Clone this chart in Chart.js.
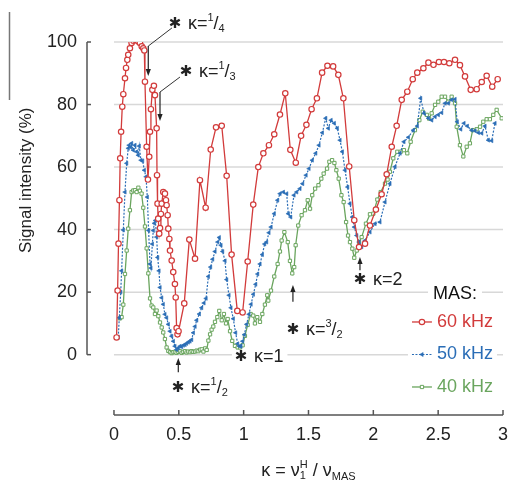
<!DOCTYPE html>
<html><head><meta charset="utf-8">
<script src="https://cdn.jsdelivr.net/npm/chart.js@4/dist/chart.umd.min.js"></script>
<style>html,body{margin:0;padding:0;background:#fff}#wrap{width:509px;height:480px}</style>
</head><body><div id="wrap"><canvas id="c" width="509" height="480"></canvas></div>
<script>
// ---------- data ----------
const kappa60 = [0.02,0.028,0.035,0.042,0.048,0.055,0.064,0.072,0.085,0.093,
0.103,0.11,0.123,0.136,0.149,0.162,0.175,0.187,0.2,0.214,
0.226,0.234,0.239,0.252,0.262,0.272,0.278,0.285,0.296,0.308,
0.316,0.329,0.332,0.336,0.341,0.349,0.355,0.362,0.368,0.38,
0.393,0.401,0.406,0.414,0.419,0.427,0.432,0.445,0.457,0.47,
0.476,0.483,0.49,0.498,0.542,0.581,0.625,0.663,0.707,0.746,
0.787,0.831,0.869,0.907,0.951,0.992,1.031,1.074,1.113,1.152,
1.195,1.236,1.28,1.321,1.36,1.402,1.443,1.484,1.524,1.565,
1.605,1.646,1.69,1.73,1.769,1.814,1.853,1.89,1.936,1.974,
2.02,2.064,2.103,2.142,2.18,2.219,2.262,2.304,2.339,2.386,
2.425,2.464,2.506,2.545,2.586,2.63,2.668,2.707,2.751,2.797,
2.836,2.874,2.917,2.959];
const signal60 = [5.5,20.5,35.5,49.4,62.8,71.3,79.3,83.3,88.4,91.7,
94.3,95.9,98,99.7,100.4,100.7,100.7,100.2,99.7,98.6,
98,97.3,87.3,66.5,56,63.3,71.3,78.5,84.7,86,
83,72.4,57.4,48.3,43.5,38.7,40.5,45,48.3,52,
51.5,49.4,47.8,44.6,40.3,37,33.3,30.1,26.4,22.6,
18.3,8.5,6.5,7.5,16.4,36.8,30.7,55.8,47,65.6,
72.7,73.2,57.2,32,14,13.5,29.8,48,60,64.4,
67,70.5,76.8,83.6,65.5,61.4,70,73.5,78.5,82,
90.2,92.4,92.2,89.5,82,60.2,43,34.4,35.5,41.3,
46.4,51.3,57.7,66.5,73.2,81.5,84.1,88.1,90.2,91.6,
93.4,92.7,93.6,93.6,93.2,94.3,92.6,89,84.7,84.9,
87.2,89.2,85.7,88.1];

const kappa50 = [0.033,0.041,0.052,0.059,0.072,0.085,0.098,0.11,0.116,0.129,
0.136,0.149,0.162,0.175,0.187,0.195,0.208,0.221,0.234,0.247,
0.257,0.267,0.278,0.285,0.296,0.303,0.311,0.319,0.329,0.337,
0.347,0.355,0.368,0.38,0.393,0.406,0.419,0.432,0.445,0.458,
0.47,0.483,0.496,0.509,0.522,0.535,0.548,0.56,0.573,0.586,
0.599,0.612,0.625,0.638,0.658,0.676,0.694,0.71,0.728,0.745,
0.761,0.779,0.8,0.812,0.825,0.838,0.856,0.869,0.887,0.902,
0.92,0.938,0.954,0.967,0.979,0.992,1.005,1.023,1.041,1.057,
1.075,1.093,1.108,1.126,1.144,1.162,1.177,1.195,1.211,1.236,
1.262,1.28,1.306,1.332,1.344,1.363,1.388,1.409,1.434,1.455,
1.481,1.504,1.529,1.556,1.581,1.607,1.633,1.653,1.674,1.699,
1.722,1.743,1.761,1.782,1.802,1.82,1.838,1.853,1.872,1.89,
1.91,1.936,1.974,2.013,2.051,2.09,2.128,2.167,2.206,2.236,
2.27,2.308,2.339,2.365,2.391,2.425,2.45,2.476,2.501,2.527,
2.553,2.578,2.604,2.63,2.647,2.674,2.699,2.725,2.758,2.784,
2.81,2.836,2.861,2.887,2.913,2.938];
const signal50 = [5.6,11.8,20,26.8,39.9,52,61.2,66,67,66.3,
67.6,65.4,67,64.9,63.8,66.7,62.2,62,59,56.9,
50.4,39.7,29,27.7,35.4,39.7,42,42.9,37.6,31.1,
26.8,21.5,18.2,16.1,12.9,11.8,9.7,7.5,5.9,4.3,
2.7,1.6,2.1,2.7,2.5,3,3.2,3.6,4,4.3,
4.8,7,9,11,13,15,16.5,18,25,28,
30.5,33,36,37.5,35,33,30,24,19,15,
11.5,7,3.5,2.7,2.7,4.3,6.4,9.7,12.9,16.1,
19.3,22.5,25.8,29,32,35.4,36,39,40.8,45.1,
49.4,51.5,52,51.5,45.1,44,51,52,53.1,54.7,
57.4,59.5,62.2,64.4,67,71,75.6,72.4,75,74,
72.4,68.6,64.9,59,53.6,48.3,44,40.8,38.1,36,
34.5,36.5,39.2,41.9,42.4,48.8,54.7,60.1,64.4,68.1,
69.5,71.8,73.1,82,77.2,75.6,75,76.1,76.7,77.4,
80.4,80.4,81.5,81.7,74.5,72.1,74,73.1,71.8,71.6,
71,70.8,73.1,68.6,68.4,74];

const kappa40 = [0.046,0.059,0.072,0.085,0.098,0.11,0.123,0.136,0.149,0.162,
0.175,0.188,0.2,0.213,0.226,0.239,0.252,0.265,0.278,0.29,
0.303,0.316,0.329,0.342,0.355,0.368,0.38,0.393,0.406,0.419,
0.432,0.445,0.458,0.47,0.483,0.496,0.509,0.522,0.535,0.548,
0.56,0.573,0.586,0.599,0.612,0.625,0.638,0.651,0.664,0.677,
0.69,0.703,0.715,0.728,0.741,0.753,0.766,0.779,0.797,0.812,
0.831,0.848,0.864,0.877,0.895,0.912,0.933,0.954,0.972,0.992,
1.01,1.031,1.054,1.074,1.087,1.105,1.126,1.144,1.164,1.182,
1.19,1.211,1.236,1.262,1.28,1.293,1.314,1.34,1.357,1.375,
1.39,1.401,1.421,1.447,1.473,1.494,1.512,1.529,1.551,1.577,
1.599,1.617,1.643,1.661,1.682,1.7,1.715,1.733,1.754,1.771,
1.79,1.805,1.82,1.838,1.853,1.872,1.89,1.91,1.943,1.974,
2,2.031,2.057,2.09,2.11,2.128,2.154,2.185,2.211,2.236,
2.262,2.288,2.321,2.355,2.381,2.412,2.43,2.45,2.476,2.501,
2.527,2.553,2.578,2.604,2.63,2.643,2.668,2.694,2.72,2.745,
2.766,2.797,2.823,2.848,2.874,2.899,2.925,2.951,2.99];
const signal40 = [11.6,12,16,25.8,33.3,40.3,46.2,52,52.5,52.6,
52,53.4,52.4,51.5,47,41,34,26,18,15.7,
15.1,13,14.1,12.3,10.3,8.7,7.1,5,2.3,1.2,
0.8,0.5,0.8,0.9,0.6,0.9,1.1,0.6,0.9,1.1,
0.7,1,0.8,1.1,0.9,1,1.3,1.1,1.6,1.7,
1,2,1.5,4.5,6.5,8,9,10.5,12,14,
11,13,10,11.4,7.5,4.4,2.8,2.3,2.3,3,
6,9.5,13,12.5,10,12,10.5,13,16,19,
17.3,20.5,25,29,33,36.5,39.2,36,30,26,
28,35,41.3,44.6,46.2,49.4,46.7,51,53.1,54.2,
56.3,57.9,59.5,61.7,62.2,61.3,59,56.3,51,48.8,
42.4,38.1,36,33.9,31,33.3,36,37.6,41.9,44.9,
45.1,49.6,52,54.7,56,58.5,62.8,64.9,64.9,65.4,
64.4,68.1,71.8,75,77.7,76.7,75.5,77.2,79.9,80.9,
82.5,82.5,80.9,82.5,80.4,72.9,67,63.4,66.5,67.6,
71.8,72.1,72.9,74.5,75.3,75.3,76.7,78.3,75.6];

const seriesNames = ['60 kHz','50 kHz','40 kHz'];
const xTicks = [0,0.5,1,1.5,2,2.5,3];
const yTicks = [0,20,40,60,80,100];
const yTitle = 'Signal intensity (%)';
const legendTitle = 'MAS:';

// ---------- styles ----------
const RED = '#d23b3b', BLUE = '#2a6db6', GREEN = '#6aa55e', INK = '#222';
const FONT = '"Liberation Sans", Arial, Helvetica, sans-serif';
const F18 = '18px ' + FONT, F17 = '17px ' + FONT, F11 = '11px ' + FONT;
const STAR = '15px "DejaVu Sans", sans-serif';

const pts = (xs, ys) => xs.map((x, i) => ({x: x, y: ys[i]}));

function rich(ctx, x, y, parts, dry) {
  let cx = x;
  for (const p of parts) {
    ctx.font = p.f;
    if (!dry) { ctx.fillStyle = p.c || INK; ctx.fillText(p.t, cx, y + (p.dy || 0)); }
    cx += ctx.measureText(p.t).width;
  }
  return cx - x;
}
function kParts(num, den) {
  if (den === undefined) return [{t: 'κ=' + num, f: F18}];
  return [{t: 'κ=', f: F18}, {t: String(num), f: F11, dy: -6}, {t: '/', f: F18}, {t: String(den), f: F11, dy: 5}];
}
function starLabel(ctx, sx, sy, parts) {
  ctx.textAlign = 'center'; ctx.textBaseline = 'middle';
  ctx.font = STAR; ctx.fillStyle = INK; ctx.fillText('✱', sx, sy);
  ctx.textAlign = 'left';
  rich(ctx, sx + 13, sy, parts);
}
function arrow(ctx, x, y0, y1) { // from y0 to tip y1
  ctx.strokeStyle = INK; ctx.lineWidth = 1.2;
  const dir = y1 > y0 ? 1 : -1;
  ctx.beginPath(); ctx.moveTo(x, y0); ctx.lineTo(x, y1 - dir * 5); ctx.stroke();
  ctx.fillStyle = INK; ctx.beginPath();
  ctx.moveTo(x, y1); ctx.lineTo(x - 2.6, y1 - dir * 7); ctx.lineTo(x + 2.6, y1 - dir * 7); ctx.closePath(); ctx.fill();
}

const datasetStyles = [
  {borderColor: RED, borderWidth: 1.3, pointStyle: 'circle', pointRadius: 2.7, pointBorderWidth: 1.2, pointBackgroundColor: '#fff', pointBorderColor: RED},
  {borderColor: BLUE, borderWidth: 1.2, borderDash: [2, 1.5], pointStyle: 'triangle', rotation: -90, pointRadius: 2.3, pointBorderWidth: 0.6, pointBackgroundColor: BLUE, pointBorderColor: BLUE},
  {borderColor: GREEN, borderWidth: 1.3, pointStyle: 'rect', pointRadius: 2.3, pointBorderWidth: 1, pointBackgroundColor: '#fff', pointBorderColor: GREEN}
];

const deco = {
  id: 'deco',
  beforeDatasetsDraw(chart) {
    const {ctx, chartArea: ca} = chart;
    const xs = chart.scales.x, ys = chart.scales.y;
    const X = v => xs.getPixelForValue(v), Y = v => ys.getPixelForValue(v);
    ctx.save();
    // grid lines
    ctx.strokeStyle = '#d8d8d8'; ctx.lineWidth = 1.5;
    yTicks.forEach(v => { ctx.beginPath(); ctx.moveTo(X(xTicks[0]), Y(v)); ctx.lineTo(X(xTicks[xTicks.length - 1]), Y(v)); ctx.stroke(); });
    // white boxes behind labels that sit on grid lines
    ctx.fillStyle = '#fff';
    ctx.font = F18;
    const w1 = ctx.measureText('κ=1').width;
    ctx.fillRect(X(0.979) - 9, Y(-0.7) - 10, w1 + 26, 20);
    const mw = ctx.measureText(legendTitle).width;
    ctx.fillRect(X(2.63) - mw / 2 - 5, Y(19.5) - 10, mw + 10, 20);
    const rows = [10.45, 0.05, -10.34];
    rows.forEach((r, i) => {
      const tw = ctx.measureText(seriesNames[i]).width;
      ctx.fillRect(X(2.298) - 4, Y(r) - 10, X(2.491) - X(2.298) + tw + 8, 20);
    });
    // axes
    ctx.strokeStyle = '#555'; ctx.lineWidth = 1.5;
    ctx.beginPath(); ctx.moveTo(ca.left, Y(yTicks[yTicks.length - 1])); ctx.lineTo(ca.left, Y(yTicks[0])); ctx.stroke();
    yTicks.forEach(v => { ctx.beginPath(); ctx.moveTo(ca.left, Y(v)); ctx.lineTo(ca.left + 4, Y(v)); ctx.stroke(); });
    ctx.beginPath(); ctx.moveTo(X(xTicks[0]), ca.bottom); ctx.lineTo(X(xTicks[xTicks.length - 1]), ca.bottom); ctx.stroke();
    xTicks.forEach(v => { ctx.beginPath(); ctx.moveTo(X(v), ca.bottom); ctx.lineTo(X(v), ca.bottom - 5); ctx.stroke(); });
    // stray border line at the left edge of the reference picture
    ctx.strokeStyle = '#777'; ctx.lineWidth = 1.5;
    ctx.beginPath(); ctx.moveTo(9.5, 12); ctx.lineTo(9.5, 100); ctx.stroke();
    ctx.restore();
  },
  afterDatasetsDraw(chart) {
    const {ctx, chartArea: ca} = chart;
    const xs = chart.scales.x, ys = chart.scales.y;
    const X = v => xs.getPixelForValue(v), Y = v => ys.getPixelForValue(v);
    ctx.save();
    // kappa = 1/4 with leader
    ctx.strokeStyle = '#333'; ctx.lineWidth = 1;
    ctx.beginPath(); ctx.moveTo(X(0.447), Y(104.5)); ctx.lineTo(X(0.2645), Y(98.7)); ctx.stroke();
    arrow(ctx, X(0.2645), Y(98.7), Y(89.1));
    starLabel(ctx, X(0.47), Y(105.8), kParts(1, 4));
    // kappa = 1/3 with leader
    ctx.strokeStyle = '#333'; ctx.lineWidth = 1;
    ctx.beginPath(); ctx.moveTo(X(0.509), Y(88.8)); ctx.lineTo(X(0.355), Y(84.0)); ctx.stroke();
    arrow(ctx, X(0.355), Y(84.0), Y(74.7));
    starLabel(ctx, X(0.555), Y(90.4), kParts(1, 3));
    // kappa = 1/2
    arrow(ctx, X(0.496), Y(-5.6), Y(-1.1));
    starLabel(ctx, X(0.494), Y(-10.7), kParts(1, 2));
    // kappa = 1
    starLabel(ctx, X(0.979), Y(-0.7), kParts(1));
    // kappa = 3/2
    arrow(ctx, X(1.38), Y(16.9), Y(22.3));
    starLabel(ctx, X(1.38), Y(8.0), kParts(3, 2));
    // kappa = 2
    arrow(ctx, X(1.897), Y(27.0), Y(31.2));
    starLabel(ctx, X(1.897), Y(23.9), kParts(2));

    // legend
    ctx.textBaseline = 'middle'; ctx.textAlign = 'center';
    ctx.font = F18; ctx.fillStyle = '#111';
    ctx.fillText(legendTitle, X(2.63), Y(19.5));
    ctx.textAlign = 'left';
    const rows = [10.45, 0.05, -10.34];
    rows.forEach((r, i) => {
      const st = datasetStyles[i];
      const yy = Y(r);
      ctx.strokeStyle = st.borderColor; ctx.lineWidth = st.borderWidth;
      ctx.setLineDash(st.borderDash || []);
      ctx.beginPath(); ctx.moveTo(X(2.298), yy); ctx.lineTo(X(2.452), yy); ctx.stroke();
      ctx.setLineDash([]);
      ctx.fillStyle = st.pointBackgroundColor; ctx.strokeStyle = st.pointBorderColor; ctx.lineWidth = st.pointBorderWidth;
      Chart.helpers.drawPoint(ctx, {pointStyle: st.pointStyle, radius: st.pointRadius, rotation: st.rotation || 0, borderWidth: st.pointBorderWidth}, X(2.375), yy);
      ctx.font = F18; ctx.fillStyle = st.borderColor;
      ctx.fillText(seriesNames[i], X(2.491), yy);
    });

    // y title
    ctx.save();
    ctx.translate(ca.left - 61, (Y(100) + Y(0)) / 2 - 18);
    ctx.rotate(-Math.PI / 2);
    ctx.textAlign = 'center'; ctx.textBaseline = 'middle';
    ctx.font = F17; ctx.fillStyle = INK;
    ctx.fillText(yTitle, 0, 0);
    ctx.restore();

    // x title: kappa = nu1^H / nu_MAS
    ctx.textAlign = 'left'; ctx.textBaseline = 'middle';
    const a = [{t: 'κ = ν', f: F18}], b = [{t: ' / ν', f: F18}], c = [{t: 'MAS', f: F11, dy: 6}];
    ctx.font = F11;
    const stackW = Math.max(ctx.measureText('H').width, ctx.measureText('1').width);
    const total = rich(ctx, 0, 0, a, true) + stackW + rich(ctx, 0, 0, b, true) + rich(ctx, 0, 0, c, true);
    let cx = (X(xTicks[0]) + X(xTicks[xTicks.length - 1])) / 2 - total / 2;
    const ty = ca.bottom + 56;
    cx += rich(ctx, cx, ty, a);
    ctx.font = F11; ctx.fillStyle = INK;
    ctx.fillText('H', cx, ty - 6);
    ctx.fillText('1', cx, ty + 5);
    cx += stackW;
    cx += rich(ctx, cx, ty, b);
    rich(ctx, cx, ty, c);
    ctx.restore();
  }
};

const tickCommon = {font: {family: FONT, size: 18}, color: INK, autoSkip: false, maxRotation: 0};

new Chart(document.getElementById('c').getContext('2d'), {
  type: 'line',
  data: {
    datasets: [
      Object.assign({label: seriesNames[0], data: pts(kappa60, signal60), tension: 0}, datasetStyles[0]),
      Object.assign({label: seriesNames[1], data: pts(kappa50, signal50), tension: 0}, datasetStyles[1]),
      Object.assign({label: seriesNames[2], data: pts(kappa40, signal40), tension: 0}, datasetStyles[2])
    ]
  },
  options: {
    responsive: false, animation: false, devicePixelRatio: 1,
    layout: {padding: {top: 42, right: 6, left: 0, bottom: 0}},
    plugins: {legend: {display: false}, tooltip: {enabled: false}},
    scales: {
      x: {
        type: 'linear', min: -0.208, max: 3,
        grid: {display: false, drawTicks: false}, border: {display: false},
        afterBuildTicks: s => { s.ticks = xTicks.map(v => ({value: v})); },
        ticks: Object.assign({padding: 9, callback: v => String(v)}, tickCommon),
        afterFit: s => { s.height = 65; s.paddingLeft = 0; s.paddingRight = 0; }
      },
      y: {
        type: 'linear', min: -19.3, max: 100,
        grid: {display: false, drawTicks: false}, border: {display: false},
        afterBuildTicks: s => { s.ticks = yTicks.map(v => ({value: v})); },
        ticks: Object.assign({padding: 10, callback: v => String(v)}, tickCommon),
        afterFit: s => { s.width = 87; s.paddingTop = 0; s.paddingBottom = 0; }
      }
    }
  },
  plugins: [deco]
});
</script>
</body></html>
